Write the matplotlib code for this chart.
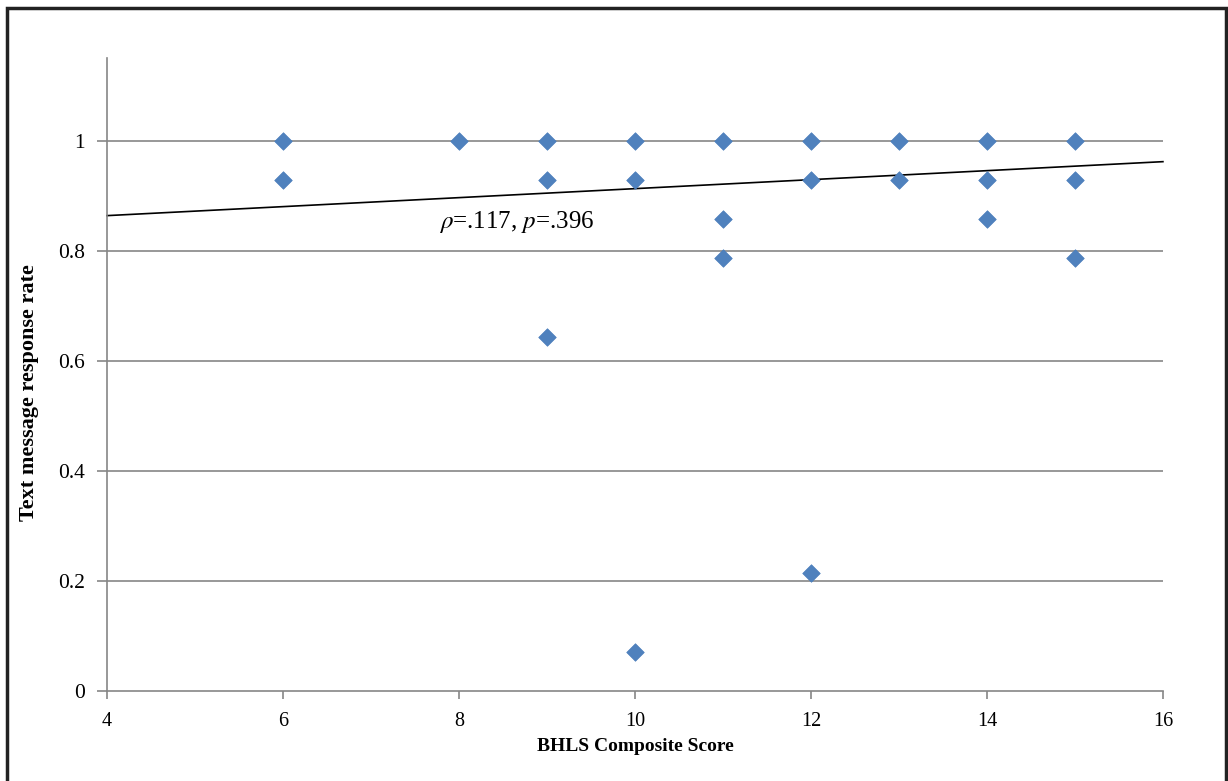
import matplotlib
matplotlib.use("Agg")
from matplotlib import pyplot as plt
from matplotlib.patches import Rectangle
import numpy as np

# BHLS composite score vs text message response rate
bhls = [6, 6, 8, 9, 9, 9, 10, 10, 10, 11, 11, 11, 12, 12, 12, 13, 13, 14, 14, 14, 15, 15, 15]
rate = [1, 0.929, 1, 1, 0.929, 0.643, 1, 0.929, 0.071, 1, 0.857, 0.786,
        1, 0.929, 0.214, 1, 0.929, 1, 0.929, 0.857, 1, 0.929, 0.786]

# trend line
trend_slope = 0.00817
trend_intercept = 0.831
trend_x = [4, 16]

plt.rcParams['font.family'] = ['Liberation Serif', 'DejaVu Serif']
plt.rcParams['mathtext.fontset'] = 'stix'

fig = plt.figure(figsize=(12.28, 7.81), dpi=100)
ax = fig.add_axes([0.0871, 0.1152, 0.947 - 0.0871, 0.9257 - 0.1152])

ax.set_xlim(4, 16)
ax.set_ylim(0, 1.15)
ax.set_xticks(range(4, 17, 2))
ax.set_yticks([0, 0.2, 0.4, 0.6, 0.8, 1])
ax.set_yticklabels(['0', '0.2', '0.4', '0.6', '0.8', '1'])

for y in [0.2, 0.4, 0.6, 0.8, 1.0]:
    ax.axhline(y, color='#868686', lw=1.2, zorder=1)

for s in ['top', 'right']:
    ax.spines[s].set_visible(False)
for s in ['left', 'bottom']:
    ax.spines[s].set_color('#868686')
    ax.spines[s].set_linewidth(1.2)
ax.tick_params(axis='both', colors='#868686', labelcolor='black', width=1.2)
ax.tick_params(axis='y', length=7, pad=9, labelsize=15.5)
ax.tick_params(axis='x', length=6, pad=9, labelsize=14.5)

ax.scatter(bhls, rate, marker='D', s=80, color='#4F81BD', edgecolors='#4A7EBB', linewidths=0.5, zorder=3)

tx = np.array(trend_x)
ax.plot(tx, trend_intercept + trend_slope * tx, color='black', lw=1.2, zorder=2, clip_on=False)

ax.text(8.66, 0.852, r'$\rho$=.117, $p$=.396', fontsize=18, ha='center', va='center')

ax.set_xlabel('BHLS Composite Score', fontsize=14, fontweight='bold', labelpad=5)
ax.set_ylabel('Text message response rate', fontsize=16, fontweight='bold')
ax.yaxis.set_label_coords(-0.064, 0.472)

# outer frame
fig.patches.append(Rectangle((0.0057, -0.01), 0.9925, 0.9998,
                             transform=fig.transFigure, fill=False,
                             edgecolor='#222222', lw=2.5))

fig.savefig('out.png', dpi=100)
